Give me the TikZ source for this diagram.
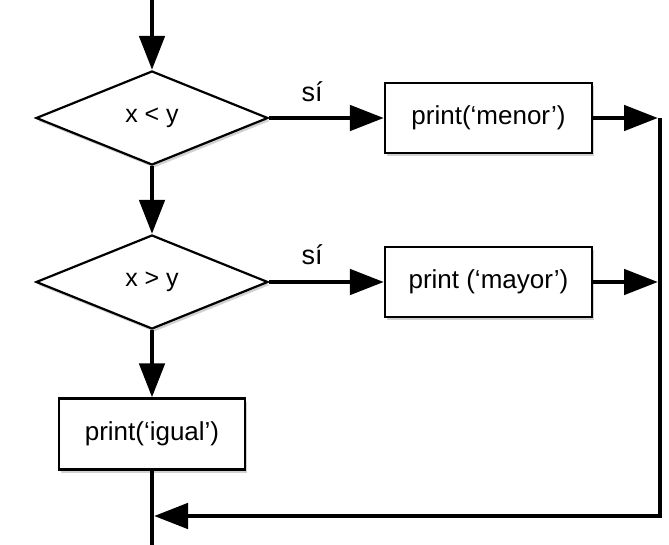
\documentclass[tikz,border=0pt]{standalone}
\usepackage{fontspec}
\setmainfont{Liberation Sans}
\usetikzlibrary{shapes.geometric,arrows.meta,shadows}
\begin{document}
\begin{tikzpicture}[x=1pt,y=-1pt,
  conn/.style={line width=4.8pt, line join=miter, -{Triangle[length=34pt,width=25pt]}},
  plain/.style={line width=4.8pt},
  shade/.style={drop shadow={shadow xshift=2pt, shadow yshift=-3pt, opacity=0.18, fill=black}},
  decision/.style={diamond, draw, line width=2.2pt, fill=white, aspect=2.47,
    minimum width=232pt, minimum height=94pt, inner sep=0pt,
    font=\fontsize{25}{30}\selectfont, shade},
  process/.style={rectangle, draw, line width=2.2pt, fill=white,
    minimum width=207pt, minimum height=70pt, inner sep=0pt,
    font=\fontsize{26}{31}\selectfont, shade},
  lbl/.style={font=\fontsize{27}{32}\selectfont, inner sep=0pt}]
\useasboundingbox (0,0) rectangle (669,545);
\coordinate (start) at (152,0);
\node[decision] (d1) at (152,118) {x < y};
\node[decision] (d2) at (152,282) {x > y};
\node[process] (b1) at (488.5,118) {print(‘menor’)};
\node[process] (b2) at (488.5,282) {print (‘mayor’)};
\node[process, minimum width=186pt, minimum height=71pt] (b3) at (152,434) {print(‘igual’)};
\coordinate (rtop) at (660,118);
\coordinate (rbot) at (660,516);
\coordinate (join) at (152,516);
\coordinate (bot) at (152,545);
\node[lbl] (s1) at (312,92) {sí};
\node[lbl] (s2) at (312,255) {sí};
\draw[conn] (start) -- (d1.north);
\draw[conn] (d1.south) -- (d2.north);
\draw[conn] (d2.south) -- (b3.north);
\draw[conn] (d1.east) -- (b1.west);
\draw[conn] (d2.east) -- (b2.west);
\draw[conn] (b1.east) -- ([xshift=-2pt]rtop);
\draw[conn] (b2.east) -- ([xshift=-2pt]b2.east -| rtop);
\draw[plain] (b3.south) -- (bot);
\draw[conn] (rtop) -- (rbot) -- ([xshift=2pt]join);
\end{tikzpicture}
\end{document}
